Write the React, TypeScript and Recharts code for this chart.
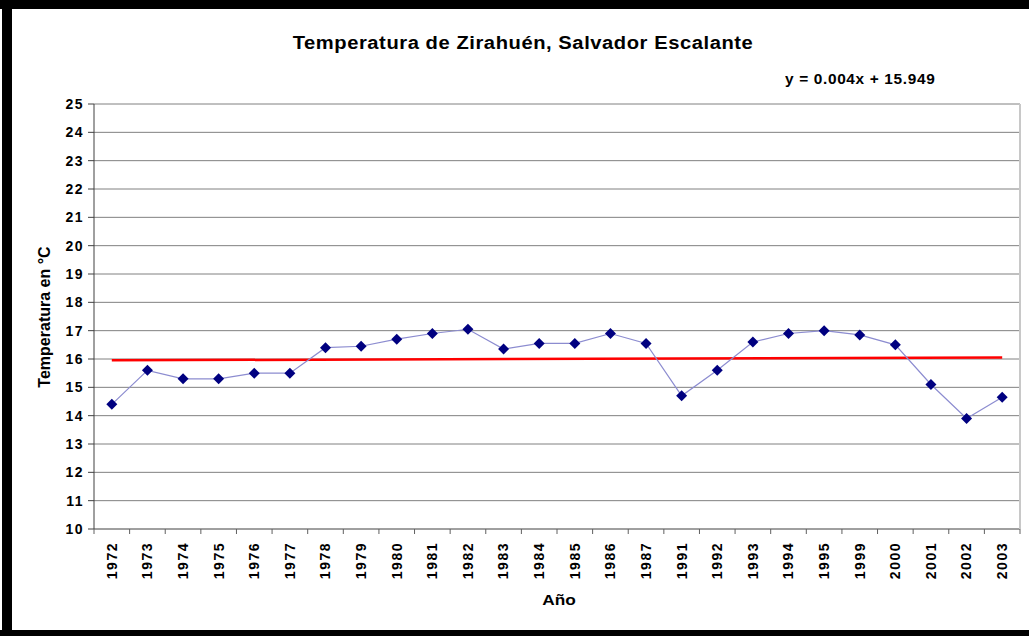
import React from "react";
import {
  LineChart,
  Line,
  XAxis,
  YAxis,
  CartesianGrid,
  ReferenceLine,
} from "recharts";

const years = [
  "1972", "1973", "1974", "1975", "1976", "1977", "1978", "1979", "1980",
  "1981", "1982", "1983", "1984", "1985", "1986", "1987", "1991", "1992",
  "1993", "1994", "1995", "1999", "2000", "2001", "2002", "2003",
];

const temps = [
  14.4, 15.6, 15.3, 15.3, 15.5, 15.5, 16.4, 16.45, 16.7, 16.9, 17.05, 16.35,
  16.55, 16.55, 16.9, 16.55, 14.7, 15.6, 16.6, 16.9, 17.0, 16.85, 16.5, 15.1,
  13.9, 14.65,
];

const yTicks = [10, 11, 12, 13, 14, 15, 16, 17, 18, 19, 20, 21, 22, 23, 24, 25];

// trend line values at first and last year (y = 0.004x + 15.949)
const trendEnds = [15.953, 16.053];

const data = years.map((year, i) => ({ year, temp: temps[i] }));

const FONT = "'Liberation Sans', Arial, sans-serif";
const PLOT_W = 926;
const BAND = PLOT_W / years.length;

const Diamond = (props: any) => {
  const { cx, cy } = props;
  if (cx == null || cy == null) return null;
  const r = 5.5;
  return (
    <polygon
      points={`${cx},${cy - r} ${cx + r},${cy} ${cx},${cy + r} ${cx - r},${cy}`}
      fill="#000080"
    />
  );
};

const YearTick = (props: any) => {
  const { x, y, payload, index } = props;
  const axisY = y - 13;
  return (
    <g>
      <line x1={x - BAND / 2} y1={axisY} x2={x - BAND / 2} y2={axisY + 5} stroke="#606060" />
      {index === years.length - 1 && (
        <line x1={x + BAND / 2} y1={axisY} x2={x + BAND / 2} y2={axisY + 5} stroke="#606060" />
      )}
      <text
        x={x}
        y={y}
        dy="0.35em"
        transform={`rotate(-90, ${x}, ${y})`}
        textAnchor="end"
        fontSize={14}
        fontWeight="bold"
        letterSpacing={1.5}
        fontFamily={FONT}
        fill="#000"
      >
        {payload.value}
      </text>
    </g>
  );
};

export default function App() {
  return (
    <div
      style={{
        position: "absolute",
        left: 0,
        top: 0,
        width: 1029,
        height: 636,
        background: "#fff",
        fontFamily: FONT,
        overflow: "hidden",
      }}
    >
      <LineChart
        width={1029}
        height={636}
        data={data}
        margin={{ top: 104, right: 8, bottom: 0, left: 0 }}
      >
        <CartesianGrid vertical={false} stroke="#808080" />
        <XAxis
          dataKey="year"
          interval={0}
          height={107}
          padding={{ left: BAND / 2, right: BAND / 2 }}
          axisLine={{ stroke: "#808080" }}
          tickLine={false}
          tickSize={5}
          tickMargin={8}
          tick={<YearTick />}
        />
        <YAxis
          domain={[10, 25]}
          ticks={yTicks}
          interval={0}
          width={94}
          tickSize={6}
          tickMargin={4}
          axisLine={{ stroke: "#404040" }}
          tickLine={{ stroke: "#404040" }}
          tick={{
            fill: "#000",
            fontSize: 14,
            fontWeight: "bold",
            fontFamily: FONT,
            letterSpacing: 1.5,
          }}
        />
        <YAxis
          yAxisId="r"
          orientation="right"
          domain={[10, 25]}
          width={1}
          tick={false}
          tickLine={false}
          axisLine={{ stroke: "#c8c8c8", strokeWidth: 2 }}
        />
        <ReferenceLine
          segment={[
            { x: years[0], y: trendEnds[0] },
            { x: years[years.length - 1], y: trendEnds[1] },
          ]}
          stroke="#ff0000"
          strokeWidth={2.5}
          ifOverflow="visible"
        />
        <Line
          type="linear"
          dataKey="temp"
          stroke="#8c8cd0"
          strokeWidth={1.2}
          dot={<Diamond />}
          activeDot={false}
          isAnimationActive={false}
        />
      </LineChart>

      <div
        style={{
          position: "absolute",
          left: 0,
          width: 1046,
          top: 33,
          textAlign: "center",
          fontSize: 18,
          fontWeight: "bold",
          letterSpacing: 0.5,
          transform: "scaleX(1.12)",
          transformOrigin: "523px 0",
        }}
      >
        Temperatura de Zirahuén, Salvador Escalante
      </div>
      <div
        style={{
          position: "absolute",
          left: 785,
          top: 71,
          fontSize: 14,
          fontWeight: "bold",
          letterSpacing: 0.6,
          whiteSpace: "nowrap",
          transform: "scaleX(1.1)",
          transformOrigin: "0 0",
        }}
      >
        y = 0.004x + 15.949
      </div>
      <div
        style={{
          position: "absolute",
          left: 45,
          top: 317,
          transform: "translate(-50%, -50%) rotate(-90deg)",
          fontSize: 16,
          fontWeight: "bold",
          whiteSpace: "nowrap",
        }}
      >
        Temperatura en °C
      </div>
      <div
        style={{
          position: "absolute",
          left: 559,
          top: 591,
          transform: "translateX(-50%) scaleX(1.15)",
          fontSize: 15,
          fontWeight: "bold",
        }}
      >
        Año
      </div>

      {/* black frame */}
      <div style={{ position: "absolute", left: 0, top: 0, width: 1029, height: 9, background: "#000" }} />
      <div style={{ position: "absolute", left: 2, top: 0, width: 10, height: 636, background: "#000" }} />
      <div style={{ position: "absolute", left: 0, top: 630, width: 1029, height: 6, background: "#000" }} />
    </div>
  );
}
